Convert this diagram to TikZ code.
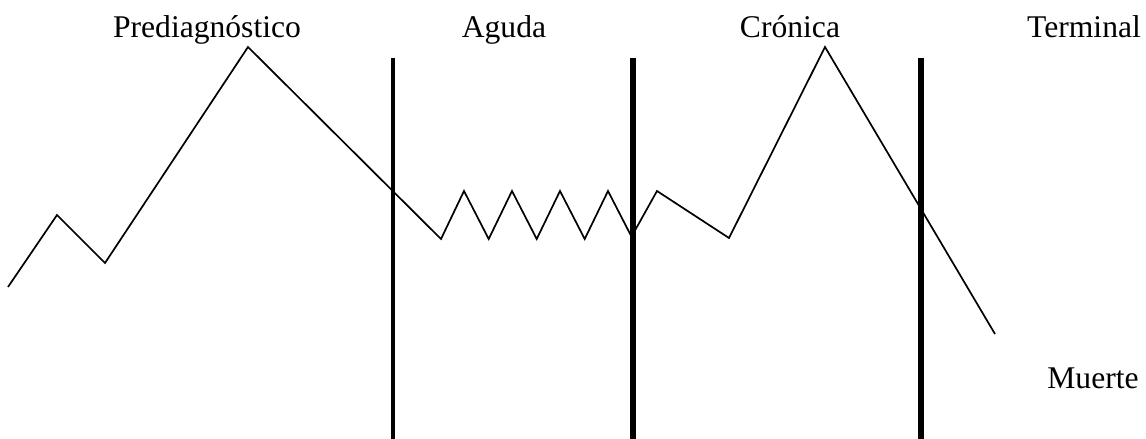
\documentclass[tikz,border=0pt]{standalone}
\usepackage{fontspec}
\setmainfont{Liberation Serif}
\usetikzlibrary{positioning}

\begin{document}
\begin{tikzpicture}[x=0.5pt,y=-0.5pt,
    label/.style={anchor=base,inner sep=0pt,font=\fontsize{15.8}{19}\selectfont},
    curve/.style={line width=0.85pt,line join=miter},
    border/.style={line width=3pt}]
    \useasboundingbox (0,0) rectangle (1146,439);
    % Phase names
    \node[label] (pre) at (207,38) {Prediagnóstico};
    \node[label] (agu) at (504,37) {Aguda};
    \node[label] (cro) at (790,37) {Crónica};
    \node[label] (ter) at (1084,37) {Terminal};
    \node[label] (mue) at (1093,388) {Muerte};
    % Phase borders
    \draw[border,line width=2.15pt] (393,58) -- (393,439);
    \draw[border] (633,58) -- (633,439);
    \draw[border] (921,58) -- (921,439);
    % Course of the illness
    \draw[curve] (8,287) -- (57,215) -- (105,263) -- (248,47) -- (441,239)
        \foreach \k in {0,...,3} {
            -- ({464+48*\k},191) -- ({488.7+48*\k},239)
        } -- (633,234) -- (657,191) -- (729,238) -- (825,47) -- (995,334);
\end{tikzpicture}
\end{document}
